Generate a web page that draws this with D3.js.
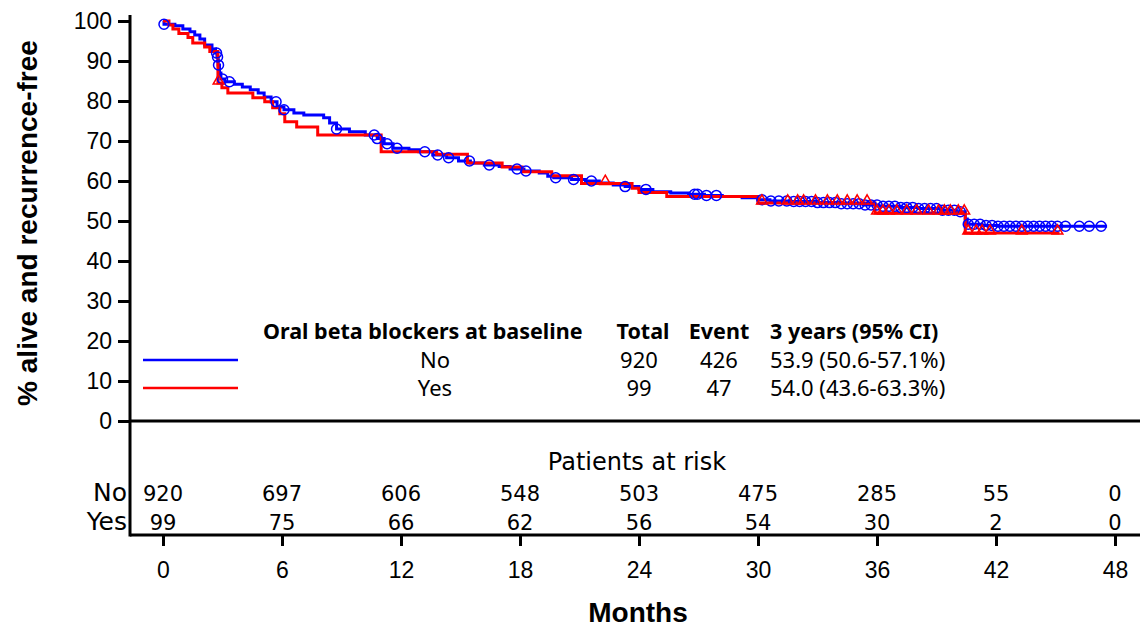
<!DOCTYPE html>
<html lang="en">
<head>
    <meta charset="UTF-8">
    <title>Kaplan-Meier: oral beta blockers</title>
    <script src="https://cdn.jsdelivr.net/npm/d3@7"></script>
    <style>
        body { margin: 0; background: #fff; }
    </style>
</head>
<body>
    <div id="chart"></div>

    <script>
        // values
        const months = [0, 6, 12, 18, 24, 30, 36, 42, 48];
        const yTicks = [0, 10, 20, 30, 40, 50, 60, 70, 80, 90, 100];
        const groups = ["No", "Yes"];
        const totals = [920, 99];
        const events = [426, 47];
        const ci3y = ["53.9 (50.6-57.1%)", "54.0 (43.6-63.3%)"];
        const atRiskNo = [920, 697, 606, 548, 503, 475, 285, 55, 0];
        const atRiskYes = [99, 75, 66, 62, 56, 54, 30, 2, 0];

        // step curves: [month, % alive and recurrence-free]
        const stepsNo = [
            [0, 100], [0.05, 99.2], [0.6, 98.8], [1.0, 98], [1.36, 97.3], [1.6, 96.5], [1.86, 95.5],
            [2.1, 94], [2.47, 93], [2.65, 92], [2.72, 91], [2.78, 89], [2.85, 87], [2.92, 85.5],
            [3.12, 84.8], [3.6, 84.2], [4.0, 83.5], [4.4, 82.8], [4.8, 82], [5.1, 81], [5.45, 79.8],
            [5.75, 78.5], [6.1, 77.8], [6.6, 77], [7.1, 76.5], [8.1, 75.8], [8.4, 74.5], [8.75, 73],
            [9.4, 72.3], [10.2, 71.5], [10.8, 70.6], [11.15, 69.3], [11.6, 68.2], [12.4, 67.8],
            [12.9, 67.3], [13.6, 66.5], [14.3, 65.8], [14.9, 65], [15.5, 64.5], [16.2, 64],
            [16.95, 63.6], [17.5, 63], [18.2, 62.5], [18.97, 62], [19.4, 61.2], [19.7, 60.8],
            [20.6, 60.4], [21.3, 60], [22, 59.5], [22.7, 59], [23.3, 58.6], [24, 57.9], [24.7, 57.3],
            [25.6, 57], [26.5, 56.7], [27.3, 56.4], [28.2, 56.1], [29.2, 55.8], [30, 55.3],
            [30.6, 55], [31.5, 54.9], [33, 54.6], [34.2, 54.3], [35.3, 54], [36.1, 53.7],
            [37.2, 53.4], [38.1, 53.1], [39.2, 52.7], [40, 52.3], [40.45, 50.5], [40.55, 49.2],
            [41.3, 48.9], [42.1, 48.7]
        ];
        const endNo = 47.6;

        const stepsYes = [
            [0, 100], [0.3, 99], [0.5, 98], [0.8, 96.9], [1.26, 95.9], [1.5, 94.5], [2.1, 93.5],
            [2.36, 92.4], [2.77, 84.5], [2.97, 83.3], [3.27, 82], [4.53, 80.8], [5.13, 79.8],
            [5.53, 78.3], [5.89, 76.8], [6.14, 74.8], [6.74, 73.5], [7.8, 71.5], [11.0, 67.3],
            [13.8, 66.7], [15.35, 64.5], [17.1, 63.5], [18.1, 62.3], [19.6, 61.3], [21.1, 59.4],
            [23.65, 58.2], [24.0, 57.1], [25.4, 56.1], [30.0, 54.5], [35.9, 52.0], [40.45, 47]
        ];
        const endYes = 45.2;

        // censored times
        const censorNo = [
            0.05, 2.7, 2.75, 2.8, 3.0, 3.35, 5.7, 6.1, 8.75, 10.65, 10.8, 11.3, 11.8, 13.2, 13.85,
            14.4, 15.45, 16.45, 17.85, 18.3, 19.8, 20.7, 21.6, 23.3, 24.35, 26.8, 26.95, 27.4, 27.9,
            30.2, 30.65, 31.05, 31.45, 31.8, 32.1, 32.4, 32.7, 33.0, 33.3, 33.6, 33.9, 34.2, 34.5,
            34.8, 35.1, 35.4, 35.7, 36.0, 36.3, 36.6, 36.9, 37.2, 37.5, 37.8, 38.1, 38.4, 38.7,
            39.0, 39.3, 39.6, 39.9, 40.2, 40.6, 40.9, 41.2, 41.5, 41.8, 42.1, 42.4, 42.7, 43.0,
            43.3, 43.6, 43.9, 44.2, 44.5, 44.8, 45.1, 45.5, 46.2, 46.7, 47.3
        ];
        const censorYes = [
            2.8, 22.3, 30.2, 31.5, 32.0, 32.3, 32.9, 33.5, 34.0, 34.5, 35.0, 35.5, 36.0, 36.3,
            36.6, 37.0, 37.5, 38.0, 38.6, 39.1, 39.4, 39.7, 40.1, 40.4, 40.6, 41.0, 41.3, 41.7,
            43.3, 45.1
        ];

        const width = 1140;
        const height = 628;
        const axisX = 130;
        const plotTop = 21, plotBottom = 421;
        const tableBottom = 535;

        const x = d3.scaleLinear().domain([0, 48]).range([163, 1115]);
        const y = d3.scaleLinear().domain([0, 100]).range([plotBottom, plotTop]);

        const svg = d3.select("#chart").append("svg")
            .attr("width", width)
            .attr("height", height);

        // frame lines
        svg.append("line")
            .attr("x1", axisX).attr("x2", axisX)
            .attr("y1", 15).attr("y2", tableBottom + 1.5)
            .attr("stroke", "#000").attr("stroke-width", 3);
        svg.append("line")
            .attr("x1", axisX).attr("x2", width)
            .attr("y1", plotBottom).attr("y2", plotBottom)
            .attr("stroke", "#000").attr("stroke-width", 3);
        svg.append("line")
            .attr("x1", axisX).attr("x2", width)
            .attr("y1", tableBottom).attr("y2", tableBottom)
            .attr("stroke", "#000").attr("stroke-width", 3);

        svg.append("g")
            .attr("transform", `translate(${axisX},0)`)
            .call(d3.axisLeft(y).tickValues(yTicks).tickSize(12).tickSizeOuter(0).tickPadding(6))
            .call(g => g.select(".domain").remove())
            .call(g => g.selectAll(".tick line").attr("stroke-width", 3))
            .call(g => g.selectAll(".tick text")
                .attr("font-family", "Liberation Sans, Arial, sans-serif")
                .attr("font-size", 23).attr("fill", "#000"));

        svg.append("g")
            .attr("transform", `translate(0,${tableBottom})`)
            .call(d3.axisBottom(x).tickValues(months).tickSize(11).tickSizeOuter(0).tickPadding(16))
            .call(g => g.select(".domain").remove())
            .call(g => g.selectAll(".tick line").attr("stroke-width", 3))
            .call(g => g.selectAll(".tick text")
                .attr("font-family", "Liberation Sans, Arial, sans-serif")
                .attr("font-size", 23).attr("fill", "#000"));

        svg.append("text")
            .attr("transform", `translate(37,${(plotTop + plotBottom) / 2 + 2}) rotate(-90)`)
            .attr("text-anchor", "middle")
            .attr("font-family", "Liberation Sans, Arial, sans-serif")
            .attr("font-weight", "bold")
            .attr("font-size", 28)
            .text("% alive and recurrence-free");

        svg.append("text")
            .attr("x", 638).attr("y", 622)
            .attr("text-anchor", "middle")
            .attr("font-family", "Liberation Sans, Arial, sans-serif")
            .attr("font-weight", "bold")
            .attr("font-size", 28)
            .text("Months");

        // curves
        const survAt = (steps, t) => {
            let v = steps[0][1];
            for (const [tt, s] of steps) if (tt <= t) v = s;
            return v;
        };
        const line = d3.line().x(d => x(d[0])).y(d => y(d[1])).curve(d3.curveStepAfter);

        const series = [
            {steps: stepsNo, end: endNo, censor: censorNo, color: "#0000ff", width: 3},
            {steps: stepsYes, end: endYes, censor: censorYes, color: "#ff0000", width: 3}
        ];

        series.forEach(s => {
            const pts = s.steps.concat([[s.end, s.steps[s.steps.length - 1][1]]]);
            svg.append("path")
                .attr("d", line(pts))
                .attr("fill", "none")
                .attr("stroke", s.color)
                .attr("stroke-width", s.width);
        });

        svg.append("g")
            .attr("fill", "none").attr("stroke", "#0000ff").attr("stroke-width", 1.5)
            .selectAll("circle")
            .data(censorNo)
            .join("circle")
            .attr("cx", d => x(d))
            .attr("cy", d => y(survAt(stepsNo, d)))
            .attr("r", 5);

        svg.append("g")
            .attr("fill", "none").attr("stroke", "#ff0000").attr("stroke-width", 1.5)
            .selectAll("path")
            .data(censorYes)
            .join("path")
            .attr("transform", d => `translate(${x(d)},${y(survAt(stepsYes, d)) - 2})`)
            .attr("d", d3.symbol(d3.symbolTriangle, 50));

        // legend
        const legFont = "Noto Sans, DejaVu Sans, sans-serif";
        const legend = svg.append("g").attr("font-family", legFont).attr("fill", "#000");
        const hdrY = 339, rowY = [368, 396], lineY = [360, 388];
        legend.append("text").attr("x", 263).attr("y", hdrY)
            .attr("font-weight", "bold").attr("font-size", 21.5)
            .text("Oral beta blockers at baseline");
        legend.append("text").attr("x", 643).attr("y", hdrY).attr("text-anchor", "middle")
            .attr("font-weight", "bold").attr("font-size", 21.5).text("Total");
        legend.append("text").attr("x", 719).attr("y", hdrY).attr("text-anchor", "middle")
            .attr("font-weight", "bold").attr("font-size", 21.5).text("Event");
        legend.append("text").attr("x", 770).attr("y", hdrY)
            .attr("font-weight", "bold").attr("font-size", 21.5).text("3 years (95% CI)");

        groups.forEach((gname, i) => {
            legend.append("line")
                .attr("x1", 143).attr("x2", 238)
                .attr("y1", lineY[i]).attr("y2", lineY[i])
                .attr("stroke", series[i].color).attr("stroke-width", 2.5);
            legend.append("text").attr("x", 435).attr("y", rowY[i]).attr("text-anchor", "middle")
                .attr("font-size", 22).text(gname);
            legend.append("text").attr("x", 639).attr("y", rowY[i]).attr("text-anchor", "middle")
                .attr("font-size", 22).text(totals[i]);
            legend.append("text").attr("x", 719).attr("y", rowY[i]).attr("text-anchor", "middle")
                .attr("font-size", 22).text(events[i]);
            legend.append("text").attr("x", 770).attr("y", rowY[i])
                .attr("font-size", 22).text(ci3y[i]);
        });

        // patients at risk
        const riskFont = "DejaVu Sans, Verdana, sans-serif";
        const risk = svg.append("g").attr("font-family", riskFont).attr("fill", "#000");
        risk.append("text").attr("x", 637).attr("y", 470).attr("text-anchor", "middle")
            .attr("font-size", 24).text("Patients at risk");

        [atRiskNo, atRiskYes].forEach((row, i) => {
            const ry = [501, 530][i];
            risk.append("text").attr("x", 127).attr("y", ry).attr("text-anchor", "end")
                .attr("font-size", 25).text(groups[i]);
            risk.selectAll(null)
                .data(row)
                .join("text")
                .attr("x", (d, j) => x(months[j]))
                .attr("y", ry)
                .attr("text-anchor", "middle")
                .attr("font-size", 21)
                .text(d => d);
        });
    </script>
</body>
</html>
